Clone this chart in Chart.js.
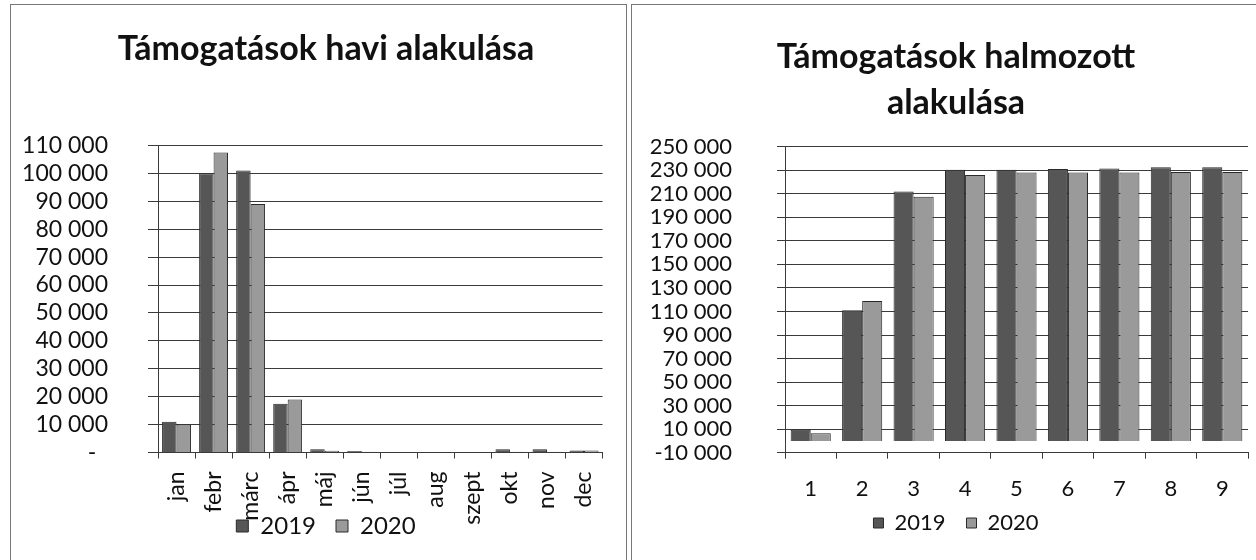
<!DOCTYPE html>
<html><head><meta charset="utf-8">
<script src="https://cdn.jsdelivr.net/npm/chart.js@4.4.1/dist/chart.umd.min.js"></script>
<style>
html,body{margin:0;padding:0;background:#fff;width:1256px;height:560px;overflow:hidden;}
.box{position:absolute;border:1px solid #777;box-sizing:border-box;background:#fff;}
#boxL{left:10px;top:4px;width:617px;height:570px;}
#boxR{left:631px;top:4px;width:640px;height:570px;}
canvas{position:absolute;}
#cL{left:11px;top:5px;}
#cR{left:633px;top:5px;}
</style></head>
<body>
<div class="box" id="boxL"></div><div class="box" id="boxR"></div>
<canvas id="cL" width="614" height="555" style="width:614px;height:555px"></canvas>
<canvas id="cR" width="623" height="555" style="width:623px;height:555px"></canvas>
<script>
const seriesNames = ['2019', '2020'];

const monthLabels = ['jan','febr','márc','ápr','máj','jún','júl','aug','szept','okt','nov','dec'];
const monthly2019 = [11000, 100000, 101000, 17500, 1200, 500, 100, 0, 0, 1200, 1200, 700];
const monthly2020 = [10000, 107500, 89000, 19000, 600, 300, 0, 0, 0, 300, 300, 700];
const monthlyYTicks = ['-','10 000','20 000','30 000','40 000','50 000','60 000','70 000','80 000','90 000','100 000','110 000'];

const cumLabels = ['1','2','3','4','5','6','7','8','9'];
const cum2019 = [9500, 111000, 212000, 230500, 230500, 231000, 231500, 232500, 232500];
const cum2020 = [6500, 119000, 207500, 226000, 228000, 228000, 228000, 228500, 228500];
const cumYTicks = ['-10 000','10 000','30 000','50 000','70 000','90 000','110 000','130 000','150 000','170 000','190 000','210 000','230 000','250 000'];

// let tick labels overflow their axis box (as in the original, where the legend overlaps the rotated labels)
Chart.Scale.prototype._computeLabelArea = function () { return undefined; };

const C2019 = '#565656', C2020 = '#9a9a9a';
const FONT = 'Lato';
const GRID = '#3a3a3a';

function ds(label, data, color) {
  return {label, data, backgroundColor: color, borderColor: '#2a2a2a', borderWidth: 1,
          categoryPercentage: 0.78, barPercentage: 1.0};
}

new Chart(document.getElementById('cL'), {
  type: 'bar',
  data: {labels: monthLabels, datasets: [ds(seriesNames[0], monthly2019, C2019), ds(seriesNames[1], monthly2020, C2020)]},
  options: {
    responsive: false, animation: false, devicePixelRatio: 1,
    layout: {padding: {left: 25, right: 9, top: 0, bottom: 12}},
    plugins: {
      title: {display: true, text: 'Támogatások havi alakulása', color: '#111',
              font: {family: FONT, size: 34, weight: 'bold', lineHeight: 1.2}, padding: {top: 24, bottom: 75.7}},
      legend: {position: 'bottom', labels: {font: {family: FONT, size: 24}, color: '#111', boxWidth: 12, boxHeight: 12, padding: 20}},
      tooltip: {enabled: false}
    },
    scales: {
      x: {grid: {drawOnChartArea: false, drawTicks: true, tickLength: 6, color: GRID, offset: true},
          border: {display: true, color: GRID},
          ticks: {font: {family: FONT, size: 23}, color: '#111', minRotation: 90, maxRotation: 90, autoSkip: false, padding: 13},
          afterFit(s) { s.height = 41.5; }},
      y: {min: 0, max: 110000,
          ticks: {stepSize: 10000, autoSkip: false, font: {family: FONT, size: 23}, color: '#111', padding: 40,
                  callback: (v, i) => monthlyYTicks[i] === '-' ? '-  ' : monthlyYTicks[i]},
          grid: {color: GRID, tickLength: 10},
          border: {display: true, color: GRID},
          afterFit(s) { s.width = 122; }}
    }
  }
});

new Chart(document.getElementById('cR'), {
  type: 'bar',
  data: {labels: cumLabels, datasets: [ds(seriesNames[0], cum2019, C2019), ds(seriesNames[1], cum2020, C2020)]},
  options: {
    responsive: false, animation: false, devicePixelRatio: 1,
    layout: {padding: {left: 31, right: 8, top: 0, bottom: 16}},
    plugins: {
      title: {display: true, text: ['Támogatások halmozott', 'alakulása'], color: '#111',
              font: {family: FONT, size: 34, weight: 'bold', lineHeight: 1.353}, padding: {top: 29.5, bottom: 20.2}},
      legend: {position: 'bottom', labels: {font: {family: FONT, size: 22}, color: '#111', boxWidth: 10, boxHeight: 10, padding: 21}},
      tooltip: {enabled: false}
    },
    scales: {
      x: {grid: {drawOnChartArea: false, drawTicks: true, tickLength: 6, color: GRID, offset: true},
          border: {display: true, color: GRID},
          ticks: {font: {family: FONT, size: 22}, color: '#111', minRotation: 0, maxRotation: 0, autoSkip: false, padding: 17},
          afterFit(s) { s.height = 38.3; }},
      y: {min: -10000, max: 250000,
          ticks: {stepSize: 20000, autoSkip: false, font: {family: FONT, size: 22}, color: '#111', padding: 45,
                  callback: (v, i) => cumYTicks[i]},
          grid: {color: GRID, tickLength: 8},
          border: {display: true, color: GRID},
          afterFit(s) { s.width = 121; }}
    }
  }
});
</script>
</body></html>
